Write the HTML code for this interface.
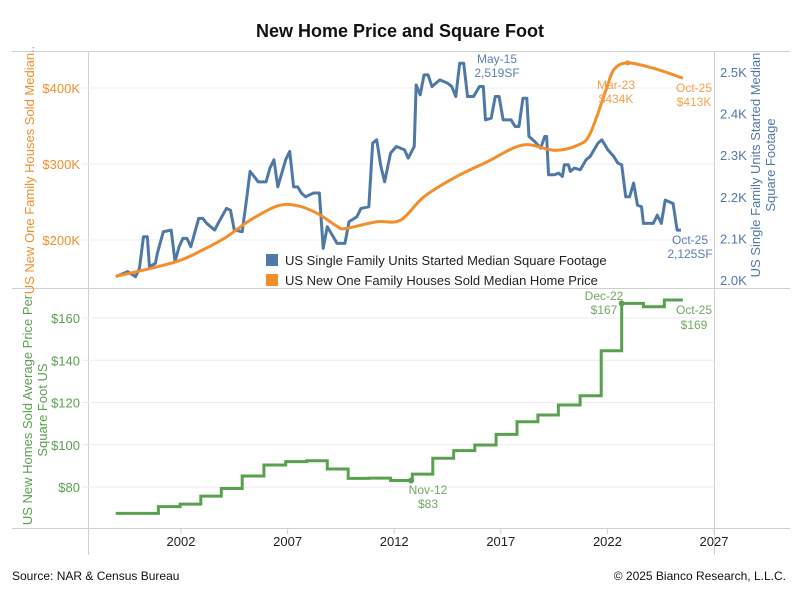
<!DOCTYPE html>
<html><head><meta charset="utf-8">
<style>
body{margin:0;background:#fff;}
svg{display:block;font-family:"Liberation Sans",sans-serif;}
</style></head>
<body>
<svg id="chart" width="800" height="600" viewBox="0 0 800 600" xmlns="http://www.w3.org/2000/svg">
<text x="400" y="37" text-anchor="middle" font-size="18" font-weight="bold" fill="#111">New Home Price and Square Foot</text>
<g id="frame" stroke="#cfcfcf" stroke-width="1" fill="none">
<line x1="12" y1="51.5" x2="790" y2="51.5"/>
<line x1="12" y1="288.5" x2="790" y2="288.5"/>
<line x1="12" y1="528.5" x2="790" y2="528.5"/>
<line x1="88.5" y1="51" x2="88.5" y2="555"/>
<line x1="714.5" y1="51" x2="714.5" y2="555"/>
</g>
<g id="grid"></g>
<g id="axes"></g>
<g id="series"></g>
<g id="ann"></g>
<g>
<rect x="266" y="254" width="12" height="12" fill="#4e79a7"/>
<text x="285" y="265" font-size="13" fill="#222">US Single Family Units Started Median Square Footage</text>
<rect x="266" y="274" width="12" height="12" fill="#f28e2b"/>
<text x="285" y="285" font-size="13" fill="#222">US New One Family Houses Sold Median Home Price</text>
</g>
<text transform="translate(34,170) rotate(-90)" text-anchor="middle" font-size="13" fill="#f28e2b">US New One Family Houses Sold Median..</text>
<text transform="translate(760,165) rotate(-90)" text-anchor="middle" font-size="13" fill="#4e79a7"><tspan x="0" dy="0">US Single Family Units Started Median</tspan><tspan x="0" dy="15">Square Footage</tspan></text>
<text transform="translate(32,410) rotate(-90)" text-anchor="middle" font-size="13" fill="#59a14f"><tspan x="0" dy="0">US New Homes Sold Average Price Per</tspan><tspan x="0" dy="15">Square Foot US</tspan></text>
<text x="12" y="580" font-size="12" fill="#111">Source: NAR &amp; Census Bureau</text>
<text x="786" y="580" text-anchor="end" font-size="12" fill="#111">© 2025 Bianco Research, L.L.C.</text>
</svg>
<script>
const priceYears=[1998.94,2001.72,2003.02,2004.13,2005.24,2006.54,2007.47,2008.40,2009.32,2009.69,2011.18,2012.29,2013.40,2014.89,2016.37,2018.04,2019.52,2020.63,2021.19,2021.93,2022.30,2022.95,2024.15,2025.54];
const priceValues=[152,171,187,204,226,245,245,235,218,215,224,226,257,283,303,325,318,325,340,397,424,433,426,413];
const sqftYears=[1998.94,1999.50,1999.87,2000.05,2000.24,2000.42,2000.52,2000.80,2000.89,2001.17,2001.54,2001.72,2001.91,2002.09,2002.28,2002.46,2002.83,2003.02,2003.21,2003.58,2003.76,2004.13,2004.32,2004.50,2004.87,2005.06,2005.24,2005.43,2005.62,2005.99,2006.17,2006.36,2006.54,2006.91,2007.10,2007.28,2007.47,2007.65,2007.84,2008.21,2008.49,2008.67,2008.86,2009.14,2009.32,2009.69,2009.88,2010.25,2010.44,2010.81,2010.99,2011.18,2011.36,2011.55,2011.83,2012.10,2012.48,2012.66,2012.94,2013.03,2013.22,2013.40,2013.59,2013.77,2014.14,2014.51,2014.70,2014.89,2015.07,2015.26,2015.44,2015.72,2016.00,2016.18,2016.28,2016.55,2016.74,2016.92,2017.11,2017.48,2017.67,2017.85,2018.04,2018.22,2018.32,2018.59,2018.87,2019.06,2019.15,2019.24,2019.52,2019.71,2019.89,2019.98,2020.17,2020.26,2020.45,2020.73,2021.00,2021.19,2021.56,2021.74,2022.02,2022.30,2022.49,2022.67,2022.86,2023.04,2023.23,2023.41,2023.60,2023.69,2024.15,2024.34,2024.53,2024.71,2025.08,2025.27,2025.45];
const sqftValues=[2008,2020,2008,2028,2104,2104,2032,2040,2064,2116,2120,2044,2080,2100,2100,2080,2148,2148,2136,2120,2138,2172,2168,2120,2116,2188,2261,2249,2236,2236,2269,2289,2224,2289,2309,2224,2224,2209,2200,2209,2209,2076,2128,2104,2088,2088,2140,2152,2172,2176,2329,2337,2277,2236,2305,2321,2313,2293,2321,2469,2445,2493,2493,2465,2481,2473,2465,2441,2521,2521,2441,2441,2465,2465,2385,2389,2441,2441,2385,2385,2369,2369,2437,2437,2345,2333,2317,2345,2345,2253,2253,2257,2249,2277,2277,2261,2269,2265,2289,2297,2329,2337,2313,2297,2281,2277,2200,2200,2233,2180,2176,2136,2136,2156,2136,2192,2184,2120,2120];
const ppsfStepYears=[1998.94,2000.94,2001.96,2002.93,2003.89,2004.87,2005.89,2006.91,2007.90,2008.86,2009.84,2010.81,2011.83,2012.85,2013.81,2014.79,2015.78,2016.78,2017.76,2018.74,2019.70,2020.72,2021.71,2022.67,2023.69,2024.67];
const ppsfValues=[67.5,70.7,71.9,75.7,79.3,85.2,90.4,92.0,92.4,88.5,84.1,84.2,83.1,86.1,93.6,97.2,99.9,104.9,110.9,114.1,118.8,123.2,144.5,166.9,165.3,168.5];
const ppsfEndYear=2025.54;
const xTicks=[2002,2007,2012,2017,2022,2027];
const priceTicks=[200,300,400];
const sqftTicks=[2000,2100,2200,2300,2400,2500];
const ppsfTicks=[80,100,120,140,160];

const NS="http://www.w3.org/2000/svg";
const X=y=>181+(y-2002)*21.32;
const YL=p=>240-(p-200)*0.76;
const YR=s=>280-(s-2000)*0.416;
const YB=v=>487-(v-80)*2.1125;
function mk(tag,attrs,parent,txt){const e=document.createElementNS(NS,tag);for(const k in attrs)e.setAttribute(k,attrs[k]);if(txt!==undefined)e.textContent=txt;parent.appendChild(e);return e;}
const grid=document.getElementById('grid'),axes=document.getElementById('axes'),series=document.getElementById('series'),ann=document.getElementById('ann');

priceTicks.forEach(p=>{
 const g=mk('line',{x1:82,x2:714,y1:YL(p),y2:YL(p),stroke:'#ececec'},grid);
 
 
 const t=mk('text',{x:80,y:YL(p)+5,'text-anchor':'end','font-size':13,fill:'#f28e2b'},axes,'$'+p+'K');
 
 
});
sqftTicks.forEach(s=>{
 const t=mk('text',{x:720,y:YR(s)+5,'font-size':13,fill:'#4e79a7'},axes,(s/1000).toFixed(1)+'K');
 
 
});
ppsfTicks.forEach(v=>{
 const g=mk('line',{x1:82,x2:714,y1:YB(v),y2:YB(v),stroke:'#ececec'},grid);
 
 
 const t=mk('text',{x:80,y:YB(v)+5,'text-anchor':'end','font-size':13,fill:'#59a14f'},axes,'$'+v);
 
 
});
xTicks.forEach(y=>{
 const l=mk('line',{x1:X(y),x2:X(y),y1:528,y2:534,stroke:'#cfcfcf'},axes);
 
 
 const t=mk('text',{x:X(y),y:546,'text-anchor':'middle','font-size':13,fill:'#222'},axes,String(y));
 
 
});

// orange smooth (catmull-rom)
function smooth(pts){let d='M'+pts[0][0]+','+pts[0][1];for(let i=0;i<pts.length-1;i++){const p0=pts[i-1]||pts[i],p1=pts[i],p2=pts[i+1],p3=pts[i+2]||p2;const c1=[p1[0]+(p2[0]-p0[0])/6,p1[1]+(p2[1]-p0[1])/6],c2=[p2[0]-(p3[0]-p1[0])/6,p2[1]-(p3[1]-p1[1])/6];d+=' C'+c1+' '+c2+' '+p2;}return d;}
const pricePts=priceYears.map((y,i)=>[X(y),YL(priceValues[i])]);
const sqftLine=mk('polyline',{points:sqftYears.map((y,i)=>X(y)+','+YR(sqftValues[i])).join(' '),fill:'none',stroke:'#4e79a7','stroke-width':3,'stroke-linejoin':'round'},series);


const priceLine=mk('path',{d:smooth(pricePts),fill:'none',stroke:'#f28e2b','stroke-width':3},series);


let sp=[];
ppsfStepYears.forEach((y,i)=>{if(i>0)sp.push(X(y)+','+YB(ppsfValues[i-1]));sp.push(X(y)+','+YB(ppsfValues[i]));});
sp.push(X(ppsfEndYear)+','+YB(ppsfValues[ppsfValues.length-1]));
const ppsfLine=mk('polyline',{points:sp.join(' '),fill:'none',stroke:'#59a14f','stroke-width':3},series);


[[2012.79,83.1],[2022.67,166.9]].forEach(([y,v])=>{const c=mk('circle',{cx:X(y),cy:YB(v),r:3,fill:'#59a14f'},series);

});
const pk=mk('circle',{cx:X(2022.95),cy:YL(433),r:2.5,fill:'#f28e2b'},series);



const labels=[[497,63,'May-15','#5a7fae'],[497,77,'2,519SF','#5a7fae'],[616,89,'Mar-23','#f5a04a'],[616,103,'$434K','#f5a04a'],[694,92,'Oct-25','#f5a04a'],[694,106,'$413K','#f5a04a'],[690,244,'Oct-25','#5a7fae'],[690,258,'2,125SF','#5a7fae'],[604,300,'Dec-22','#72a860'],[604,314,'$167','#72a860'],[694,314,'Oct-25','#72a860'],[694,329,'$169','#72a860'],[428,494,'Nov-12','#72a860'],[428,508,'$83','#72a860']];
labels.forEach(([x,y,s,c])=>{const t=mk('text',{x:x,y:y,'text-anchor':'middle','font-size':12,fill:c},ann,s);

});
</script>
</body></html>
